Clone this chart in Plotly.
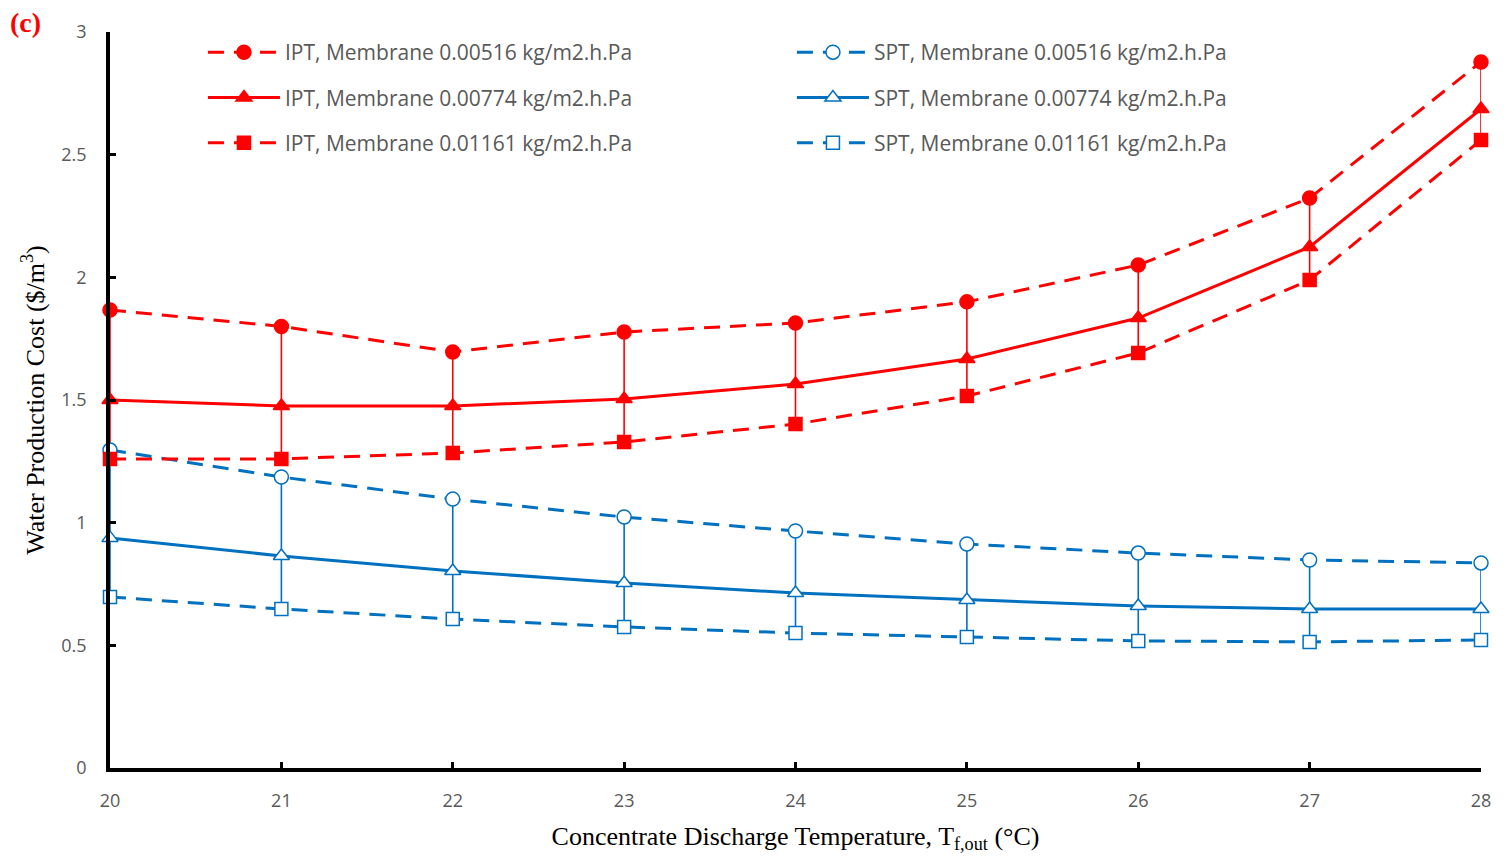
import plotly.graph_objects as go

temps = [20, 21, 22, 23, 24, 25, 26, 27, 28]

ipt_516 = [1.867, 1.800, 1.696, 1.777, 1.814, 1.900, 2.050, 2.323, 2.878]
ipt_774 = [1.500, 1.476, 1.476, 1.504, 1.565, 1.667, 1.834, 2.124, 2.686]
ipt_1161 = [1.260, 1.260, 1.284, 1.329, 1.402, 1.516, 1.692, 1.989, 2.560]

spt_516 = [1.296, 1.186, 1.096, 1.023, 0.966, 0.913, 0.876, 0.848, 0.836]
spt_774 = [0.938, 0.864, 0.803, 0.754, 0.713, 0.685, 0.660, 0.648, 0.648]
spt_1161 = [0.697, 0.648, 0.607, 0.575, 0.550, 0.534, 0.518, 0.514, 0.522]

names = {
    "ipt_516": "IPT, Membrane 0.00516 kg/m2.h.Pa",
    "ipt_774": "IPT, Membrane 0.00774 kg/m2.h.Pa",
    "ipt_1161": "IPT, Membrane 0.01161 kg/m2.h.Pa",
    "spt_516": "SPT, Membrane 0.00516 kg/m2.h.Pa",
    "spt_774": "SPT, Membrane 0.00774 kg/m2.h.Pa",
    "spt_1161": "SPT, Membrane 0.01161 kg/m2.h.Pa",
}

RED = "#FF0000"
BLUE = "#0070C0"
DASH = "16px,10px"

fig = go.Figure()

# high-low connector lines (square -> circle) via error bars on an invisible trace
for top, mid, bot, col in [(ipt_516, ipt_774, ipt_1161, RED), (spt_516, spt_774, spt_1161, BLUE)]:
    fig.add_trace(go.Scatter(
        x=temps, y=mid, mode="markers", marker=dict(size=1, opacity=0),
        showlegend=False, hoverinfo="skip", cliponaxis=False,
        error_y=dict(type="data", symmetric=False,
                     array=[t - m for t, m in zip(top, mid)],
                     arrayminus=[m - b for m, b in zip(mid, bot)],
                     color=col, thickness=1.6, width=0),
    ))

def add(y, key, col, dash, symbol, legend, group, filled=True):
    fig.add_trace(go.Scatter(
        x=temps, y=y, name=names[key], mode="lines+markers", cliponaxis=False,
        line=dict(color=col, width=3, dash=dash),
        marker=dict(symbol=symbol, size=14 if "square" not in symbol else 13,
                    color=col if filled else "white",
                    line=dict(color=col, width=1.5)),
        legend=legend, legendgroup=group,
    ))

add(spt_516, "spt_516", BLUE, DASH, "circle", "legend2", "s1", filled=False)
add(spt_774, "spt_774", BLUE, "solid", "triangle-up", "legend2", "s2", filled=False)
add(spt_1161, "spt_1161", BLUE, DASH, "square", "legend2", "s3", filled=False)
add(ipt_516, "ipt_516", RED, DASH, "circle", "legend", "i1")
add(ipt_774, "ipt_774", RED, "solid", "triangle-up", "legend", "i2")
add(ipt_1161, "ipt_1161", RED, DASH, "square", "legend", "i3")

tickfont = dict(family="Open Sans, Lato, sans-serif", size=18, color="#595959")
legfont = dict(family="Open Sans, Lato, sans-serif", size=21, color="#595959")
titlefont = dict(family="Liberation Serif, Times New Roman, serif", size=26, color="black")

fig.update_layout(
    width=1512, height=858,
    margin=dict(l=110, r=31, t=32, b=90),
    plot_bgcolor="white", paper_bgcolor="white",
    xaxis=dict(range=[20, 28], dtick=1, tick0=20, showgrid=False, zeroline=False,
               showline=True, linecolor="black", linewidth=3.5,
               ticks="inside", ticklen=6, tickwidth=3, tickcolor="black",
               tickfont=tickfont, ticklabelstandoff=14,
               title=dict(text="Concentrate Discharge Temperature, T<sub>f,out</sub> (°C)",
                          font=titlefont, standoff=16)),
    yaxis=dict(range=[0, 3], dtick=0.5, tick0=0, showgrid=False, zeroline=False,
               showline=True, linecolor="black", linewidth=3.5,
               ticks="inside", ticklen=6, tickwidth=3, tickcolor="black",
               tickfont=tickfont, ticklabelstandoff=16,
               title=dict(text="Water Production Cost ($/m<sup>3</sup>)",
                          font=titlefont, standoff=10)),
    legend=dict(x=0.0678, y=1.0, xanchor="left", yanchor="top", font=legfont,
                bgcolor="rgba(0,0,0,0)", tracegroupgap=15, traceorder="grouped",
                itemwidth=72),
    legend2=dict(x=0.4974, y=1.0, xanchor="left", yanchor="top", font=legfont,
                 bgcolor="rgba(0,0,0,0)", tracegroupgap=15, traceorder="grouped",
                 itemwidth=72),
    annotations=[dict(text="<b>(c)</b>", x=(25 - 110) / 1371, y=(768 - 22) / 736,
                      xref="paper", yref="paper", xanchor="center", yanchor="middle",
                      showarrow=False,
                      font=dict(family="Liberation Serif, serif", size=28, color=RED))],
)

fig.write_html("out.html")
